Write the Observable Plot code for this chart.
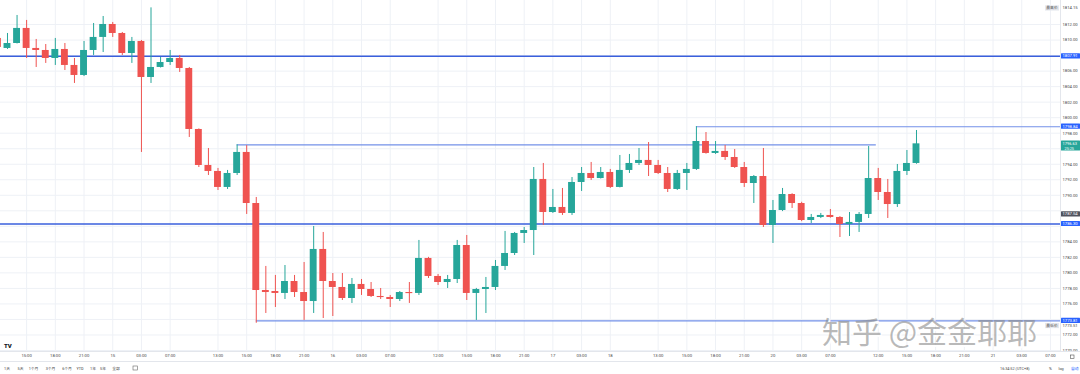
<!DOCTYPE html>
<html><head><meta charset="utf-8">
<script src="https://cdn.jsdelivr.net/npm/d3@7"></script>
<script src="https://cdn.jsdelivr.net/npm/@observablehq/plot@0.6"></script>
<style>
body{margin:0;background:#fff;}
#wrap{position:relative;width:1080px;height:374px;overflow:hidden;}
</style></head><body><div id="wrap"></div>
<script>
// ---- data: hourly candles (index 0 = partly off-screen at left) ----
const opens = [
1810.21,1808.92,1809.56,1811.50,1808.92,1808.66,1807.63,1808.79,1806.73,1805.44,
1808.66,1810.34,1812.01,1810.85,1808.27,1809.82,1805.18,1806.47,1807.11,1807.63,
1806.34,1798.48,1793.84,1793.07,1791.01,1792.81,1795.52,1788.94,1777.73,1777.60,
1777.35,1778.89,1777.47,1776.31,1783.02,1778.89,1778.12,1776.70,1778.51,1777.86,
1776.96,1776.83,1776.57,1777.47,1777.35,1781.86,1779.54,1778.76,1779.15,1783.53,
1777.35,1777.86,1778.12,1780.83,1782.50,1785.08,1785.46,1792.04,1787.78,1788.43,
1787.66,1791.65,1792.81,1792.16,1792.94,1791.01,1793.20,1794.10,1794.49,1793.84,
1792.81,1790.75,1792.81,1793.33,1796.93,1795.39,1795.65,1794.87,1793.58,1791.52,
1792.42,1786.11,1788.04,1790.10,1788.94,1786.75,1787.14,1787.40,1787.14,1786.24,
1786.50,1787.53,1792.16,1790.36,1788.81,1793.07,1794.10];
const highs = [
1810.98,1810.85,1813.17,1812.53,1810.08,1809.43,1810.21,1809.56,1807.63,1809.82,
1812.14,1813.04,1812.27,1810.98,1810.34,1809.95,1814.15,1807.76,1808.66,1808.02,
1806.47,1798.55,1796.03,1793.46,1793.20,1796.50,1796.40,1789.72,1780.83,1779.67,
1780.95,1779.67,1781.34,1785.98,1785.21,1779.92,1779.92,1779.28,1779.15,1778.76,
1777.99,1777.09,1777.60,1778.76,1784.18,1782.00,1779.80,1779.67,1784.18,1784.82,
1778.00,1779.41,1781.60,1785.34,1785.21,1785.85,1793.58,1794.10,1790.75,1790.88,
1792.29,1793.58,1794.23,1793.58,1793.33,1795.13,1795.26,1796.03,1796.80,1794.49,
1793.58,1793.20,1794.10,1798.84,1798.09,1796.93,1796.42,1795.90,1794.23,1792.55,
1796.03,1789.33,1790.88,1790.20,1789.10,1787.53,1787.66,1788.17,1787.25,1787.78,
1787.78,1796.29,1793.46,1792.04,1793.97,1795.77,1798.35];
const lows = [
1808.40,1808.79,1809.50,1807.63,1806.47,1806.99,1806.73,1806.08,1804.41,1805.30,
1808.02,1808.40,1810.34,1808.02,1806.99,1795.52,1804.41,1806.40,1806.73,1805.83,
1797.45,1793.58,1792.55,1790.62,1790.75,1792.55,1787.53,1773.51,1774.77,1775.54,
1776.57,1776.83,1773.87,1774.77,1774.12,1774.38,1776.44,1776.06,1777.09,1776.83,
1776.57,1775.54,1776.31,1776.06,1777.09,1779.28,1778.38,1777.99,1778.63,1776.44,
1773.87,1774.77,1777.73,1780.31,1782.24,1783.79,1782.24,1786.11,1787.66,1787.40,
1787.40,1790.49,1791.91,1792.10,1790.88,1790.95,1792.81,1793.84,1792.42,1792.68,
1790.36,1790.62,1790.62,1793.20,1795.30,1795.26,1794.49,1793.46,1791.01,1788.94,
1785.85,1783.79,1787.90,1788.30,1786.60,1786.37,1787.00,1787.05,1784.56,1784.69,
1785.21,1787.01,1789.33,1787.01,1788.43,1792.55,1794.00];
const closes = [
1809.05,1809.56,1811.50,1808.92,1808.66,1807.63,1808.79,1806.73,1805.44,1808.66,
1810.34,1812.01,1810.85,1808.27,1809.82,1805.18,1806.47,1807.11,1807.63,1806.34,
1798.48,1793.84,1793.07,1791.01,1792.81,1795.52,1788.94,1777.73,1777.47,1777.35,
1778.89,1777.47,1776.31,1783.02,1778.89,1778.12,1776.70,1778.51,1777.86,1776.96,
1776.83,1776.57,1777.47,1777.35,1781.86,1779.54,1778.76,1779.15,1783.53,1777.35,
1777.86,1778.12,1780.83,1782.50,1785.08,1785.46,1792.04,1787.78,1788.43,1787.66,
1791.65,1792.81,1792.16,1792.94,1791.01,1793.20,1794.10,1794.49,1793.84,1792.81,
1790.75,1792.81,1793.33,1796.93,1795.39,1795.65,1794.87,1793.58,1791.52,1792.42,
1786.11,1788.04,1790.10,1788.94,1786.75,1787.14,1787.40,1787.14,1786.24,1786.50,
1787.53,1792.16,1790.36,1788.81,1793.07,1794.10,1796.63];

// time-axis ticks (candle index) and labels
const timeTickIdx = [3,6,9,12,15,18,23,26,29,32,35,38,41,46,49,52,55,58,61,64,69,72,75,78,81,84,87,92,95,98,101,104,107,110];
const timeTickLabels = ["15:00","18:00","21:00","15","03:00","07:00","13:00","15:00","18:00","21:00","16","03:00","07:00","12:00","15:00","18:00","21:00","17","03:00","18","13:00","15:00","18:00","21:00","20","03:00","07:00","12:00","15:00","18:00","21:00","21","03:00","07:00"];

// price-axis ticks
const priceTicks = d3.range(1770, 1813, 2);

// horizontal levels drawn on the chart (price, anchor candle index, end candle index or null = right edge)
const levelPrices = [1807.91, 1798.84, 1796.50, 1786.30, 1773.81];
const levelStart  = [null, 73, 25, null, 27];
const levelEnd    = [null, null, 91.8, null, null];
const levelStrong = [true, false, false, true, false];

// price-axis labels
const axisLabelPrices = [1807.91, 1798.84, 1787.54, 1786.30, 1773.81];
const axisLabelKinds  = ["line", "line", "dark", "line", "line"];
const lastPrice = 1796.63, countdown = "25:25";
const highPrice = 1814.15, lowPrice = 1773.51;

const rangeButtons = ["1天","5天","1个月","3个月","6个月","YTD","1年","5年","全部"];
const clockText = "16:34:52 (UTC+8)";
const watermark = "知乎 @金金耶耶";

// ---- chart ----
const UP = "#26a69a", DN = "#ef5350";
const candles = opens.map((o, i) => ({i, o, h: highs[i], l: lows[i], c: closes[i]}));
const X0 = 0.27, X1 = 111.05;
const levels = levelPrices.map((p, k) => ({p, a: levelStart[k] ?? X0, b: levelEnd[k] ?? X1, strong: levelStrong[k]}));
const FONT = "Roboto, 'Noto Sans CJK SC', sans-serif";

// hide tick labels that would sit under an axis label box (as TradingView does)
const boxPrices = axisLabelPrices.concat([lastPrice, lastPrice - 0.6, lowPrice - 0.3, highPrice]);
const tickLabelsShown = priceTicks.filter(t => boxPrices.every(p => Math.abs(p - t) > 0.55));

const chart = Plot.plot({
  width: 1080, height: 374,
  marginLeft: 0, marginRight: 20, marginTop: 0, marginBottom: 23,
  style: {background: "#fff", fontFamily: FONT},
  x: {domain: [X0, X1], axis: null},
  y: {domain: [1769.87, 1815.10]},
  color: {type: "identity"},
  marks: [
    Plot.gridY(priceTicks, {stroke: "#eef1f6", strokeOpacity: 1}),
    Plot.gridX(timeTickIdx, {stroke: "#eef1f6", strokeOpacity: 1}),
    Plot.ruleY(levels.filter(d => !d.strong), {y: "p", x1: "a", x2: "b", stroke: "#7391e8", strokeWidth: 1.1}),
    Plot.ruleY(levels.filter(d => d.strong), {y: "p", x1: "a", x2: "b", stroke: "#3a5fdc", strokeWidth: 1.6}),
    Plot.ruleX(candles, {x: "i", y1: "l", y2: "h", stroke: d => d.c >= d.o ? UP : DN, strokeWidth: 1}),
    Plot.rect(candles, {
      x1: d => d.i - 0.36, x2: d => d.i + 0.36,
      y1: "o",
      y2: d => Math.abs(d.c - d.o) < 0.14 ? d.o + (d.c >= d.o ? 0.14 : -0.14) : d.c,
      fill: d => d.c >= d.o ? UP : DN
    }),
    Plot.axisY(tickLabelsShown, {anchor: "right", tickSize: 0, tickPadding: 2, tickFormat: d => d.toFixed(2), fontSize: 4.2, fill: "#444"}),
    Plot.text(timeTickIdx, {x: d => d, frameAnchor: "bottom", dy: 5.5, text: (d, i) => timeTickLabels[i], fontSize: 4.2, fill: "#444"})
  ]
});
document.getElementById("wrap").appendChild(chart);

// ---- decorations using the chart's own scales ----
const sy = chart.scale("y"), sx = chart.scale("x");
const svg = d3.select(chart);
const g = svg.append("g").attr("font-family", FONT).attr("text-anchor", "start");
const plotRight = sx.apply(X1), plotBottom = sy.apply(1769.87);

g.append("line").attr("x1", plotRight + 0.5).attr("x2", plotRight + 0.5).attr("y1", 0).attr("y2", plotBottom).attr("stroke", "#e3e6ec");
g.append("line").attr("x1", 0).attr("x2", 1080).attr("y1", plotBottom + 0.5).attr("y2", plotBottom + 0.5).attr("stroke", "#e3e6ec");
g.append("line").attr("x1", 0).attr("x2", 1080).attr("y1", plotBottom + 10.5).attr("y2", plotBottom + 10.5).attr("stroke", "#e3e6ec");

// watermark
const wm = g.append("g").attr("font-family", "'Noto Sans CJK SC', sans-serif").attr("font-size", 30);
wm.append("text").attr("x", 823.5).attr("y", 344.5).attr("fill", "#ffffff").attr("fill-opacity", 0.95).text(watermark);
wm.append("text").attr("x", 822).attr("y", 343).attr("fill", "#8a8a8a").attr("fill-opacity", 0.6).text(watermark);

// axis label boxes
function box(price, bg, txt, fg) {
  const y = sy.apply(price);
  g.append("rect").attr("x", plotRight + 1).attr("y", y - 2.6).attr("width", 19).attr("height", 5.2).attr("fill", bg).attr("rx", 0.5);
  g.append("text").attr("x", plotRight + 2.5).attr("y", y + 1.5).attr("font-size", 4.2).attr("fill", fg).text(txt);
}
axisLabelPrices.forEach((p, k) => box(p, axisLabelKinds[k] === "dark" ? "#50535e" : "#2962ff", p.toFixed(2), "#fff"));
{
  const y = sy.apply(lastPrice);
  g.append("rect").attr("x", plotRight + 1).attr("y", y - 2.8).attr("width", 19).attr("height", 10).attr("fill", UP).attr("rx", 0.5);
  g.append("text").attr("x", plotRight + 2.5).attr("y", y + 1.3).attr("font-size", 4.0).attr("fill", "#fff").text(lastPrice.toFixed(2));
  g.append("text").attr("x", plotRight + 4.5).attr("y", y + 6.2).attr("font-size", 3.8).attr("fill", "#fff").text(countdown);
}
function hiLo(price, name, dy) {
  const y = sy.apply(price) + dy;
  g.append("rect").attr("x", plotRight - 15).attr("y", y - 2.6).attr("width", 14).attr("height", 5.2).attr("fill", "#e6e8ee");
  g.append("text").attr("x", plotRight - 8).attr("y", y + 1.5).attr("text-anchor", "middle").attr("font-size", 3.8).attr("fill", "#555").text(name);
  g.append("text").attr("x", plotRight + 2.5).attr("y", y + 1.5).attr("font-size", 4.2).attr("fill", "#444").text(price.toFixed(2));
}
hiLo(highPrice, "最高价", 0.6);
hiLo(lowPrice, "最低价", 2.8);

// TV logo
g.append("text").attr("x", 4).attr("y", 347.5).attr("font-size", 6).attr("font-weight", 900).attr("fill", "#131722").text("TV");
// corner square
g.append("rect").attr("x", 1070.5).attr("y", 355).attr("width", 3.5).attr("height", 3.5).attr("fill", "none").attr("stroke", "#555").attr("stroke-width", 0.6);

// bottom toolbar
const btnX = [7, 20.5, 33.5, 50.5, 67, 80, 93, 103, 116];
rangeButtons.forEach((t, k) => g.append("text").attr("x", btnX[k]).attr("y", 369.5).attr("text-anchor", "middle").attr("font-size", 3.8).attr("fill", "#444").text(t));
g.append("rect").attr("x", 133).attr("y", 366).attr("width", 4.5).attr("height", 4).attr("fill", "none").attr("stroke", "#666").attr("stroke-width", 0.6);
g.append("text").attr("x", 1000).attr("y", 369.5).attr("font-size", 3.8).attr("fill", "#444").text(clockText);
g.append("text").attr("x", 1049).attr("y", 369.5).attr("font-size", 3.8).attr("fill", "#444").text("%");
g.append("text").attr("x", 1058.5).attr("y", 369.5).attr("font-size", 3.8).attr("fill", "#444").text("log");
g.append("text").attr("x", 1071).attr("y", 369.5).attr("font-size", 3.8).attr("fill", "#2962ff").text("自动");
</script>
</body></html>
